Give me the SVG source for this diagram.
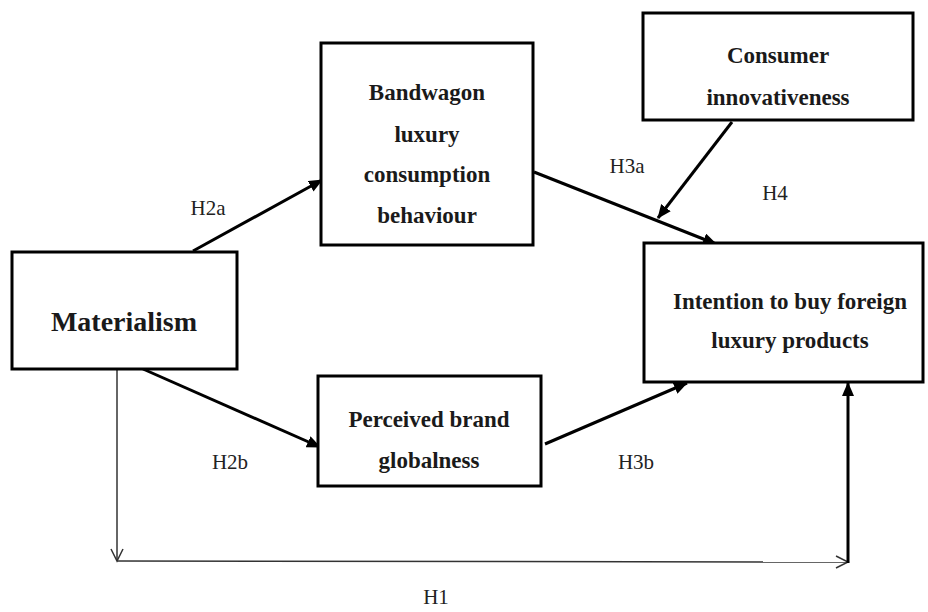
<svg xmlns="http://www.w3.org/2000/svg" width="928" height="612" viewBox="0 0 928 612">
<style>
.box{fill:#fff;stroke:#000;stroke-width:3}
.t{font-family:"Liberation Serif","Times New Roman",serif;font-weight:bold;font-size:23px;fill:#1a1a1a;text-anchor:middle}
.big{font-size:28px}
.lbl{font-family:"Liberation Serif","Times New Roman",serif;font-size:21px;fill:#222;text-anchor:middle}
.thick{stroke:#000;stroke-width:3;fill:none}
.thin{stroke:#333;stroke-width:1.5;fill:none}
</style>
<defs>
<marker id="fa" markerUnits="userSpaceOnUse" markerWidth="14" markerHeight="12" refX="13" refY="6" orient="auto">
<path d="M0,0 L14,6 L0,12 z" fill="#000"/>
</marker>
<marker id="oa" markerUnits="userSpaceOnUse" markerWidth="16" markerHeight="16" refX="14" refY="8" orient="auto">
<path d="M2,2 L14,8 L2,14" fill="none" stroke="#333" stroke-width="1.5"/>
</marker>
</defs>
<g id="connectors">
<line class="thick" x1="193" y1="251" x2="322" y2="180" marker-end="url(#fa)"/>
<line class="thick" x1="534" y1="172" x2="716" y2="244" marker-end="url(#fa)"/>
<line class="thick" x1="732" y1="122" x2="658" y2="218" marker-end="url(#fa)"/>
<line class="thick" x1="143" y1="369" x2="320" y2="447" marker-end="url(#fa)"/>
<line class="thick" x1="545" y1="444" x2="687" y2="383" marker-end="url(#fa)"/>
<line class="thin" x1="117" y1="369" x2="117" y2="561" marker-end="url(#oa)"/>
<line class="thin" x1="117" y1="561" x2="848" y2="562" marker-end="url(#oa)"/>
<line class="thick" x1="848" y1="563" x2="848" y2="383" marker-end="url(#fa)"/>
<text class="lbl" x="208" y="215">H2a</text>
<text class="lbl" x="627" y="173">H3a</text>
<text class="lbl" x="775" y="200">H4</text>
<text class="lbl" x="230" y="469">H2b</text>
<text class="lbl" x="636" y="469">H3b</text>
<text class="lbl" x="436" y="604">H1</text>
</g>
<g id="materialism">
<rect class="box" x="12" y="252" width="225" height="117"/>
<text class="t big" x="124" y="331">Materialism</text>
</g>
<g id="bandwagon">
<rect class="box" x="321" y="43" width="212" height="202"/>
<text class="t" x="427" y="100">Bandwagon</text>
<text class="t" x="427" y="142">luxury</text>
<text class="t" x="427" y="182">consumption</text>
<text class="t" x="427" y="223">behaviour</text>
</g>
<g id="consumer">
<rect class="box" x="643" y="13" width="270" height="107"/>
<text class="t" x="778" y="63">Consumer</text>
<text class="t" x="778" y="105">innovativeness</text>
</g>
<g id="intention">
<rect class="box" x="644" y="243" width="279" height="139"/>
<text class="t" x="790" y="309">Intention to buy foreign</text>
<text class="t" x="790" y="348">luxury products</text>
</g>
<g id="perceived">
<rect class="box" x="318" y="376" width="223" height="110"/>
<text class="t" x="429" y="427">Perceived brand</text>
<text class="t" x="429" y="468">globalness</text>
</g>
</svg>
